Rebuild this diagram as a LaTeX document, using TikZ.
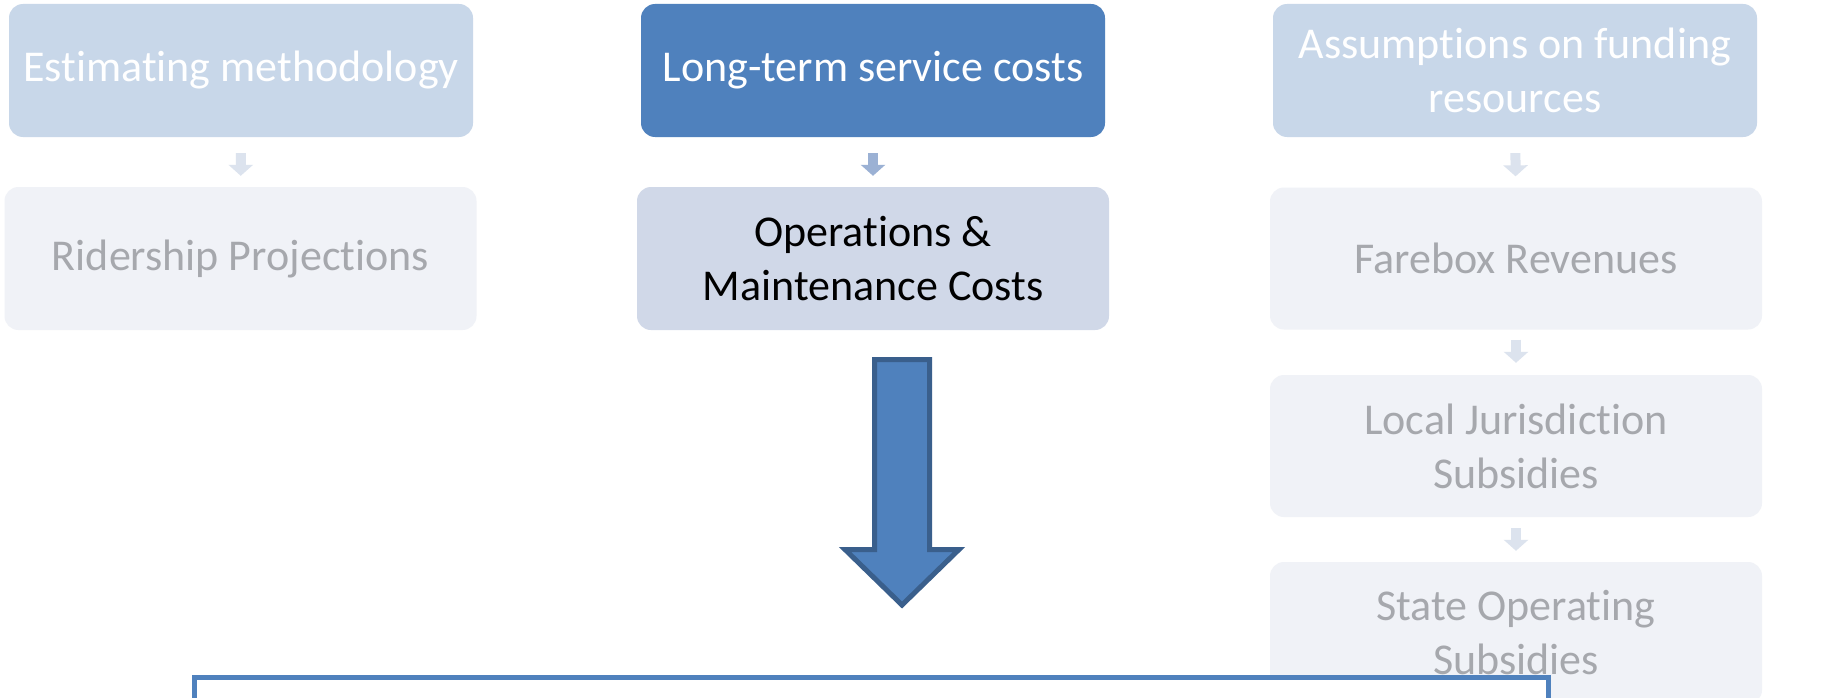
\documentclass[tikz,border=0pt]{standalone}
\usepackage{fontspec}
\setmainfont[Ligatures=NoCommon]{Carlito}
\usetikzlibrary{arrows.meta}
\definecolor{mainblue}{RGB}{79,129,189}
\definecolor{arrowdark}{RGB}{58,95,140}
\definecolor{fadetop}{RGB}{200,215,233}
\definecolor{omfill}{RGB}{208,216,232}
\definecolor{fadelow}{RGB}{240,242,247}
\definecolor{fadetext}{RGB}{166,168,173}
\definecolor{fadearrow}{RGB}{220,227,238}
\definecolor{midarrow}{RGB}{155,177,212}
\begin{document}
\begin{tikzpicture}[x=1pt,y=-1pt,
  box/.style={rectangle, rounded corners=14pt, align=center, inner sep=0pt,
    font=\fontsize{44}{54}\selectfont},
  fadedtop/.style={box, fill=fadetop, text=white},
  fadedlow/.style={box, fill=fadelow, text=fadetext},
  activetop/.style={box, fill=mainblue, text=white},
  activelow/.style={box, fill=omfill, text=black},
  toprow/.style={minimum width=464pt, minimum height=133pt},
  lowrow/.style={minimum width=472pt, minimum height=143pt},
  rightcol/.style={minimum width=492pt, minimum height=142pt},
  smallarr/.style={line width=10pt, -{Triangle[width=24pt,length=11pt]}},
  bigarrow/.style={line width=5pt, draw=arrowdark, fill=mainblue, line join=miter},
  notebox/.style={draw=mainblue, line width=5pt, fill=white, inner sep=0pt}
]
\clip (0,0) rectangle (1835,698);
\fill[white] (0,0) rectangle (1835,698);

% left column
\node[fadedtop, toprow] (est) at (241,70.5) {Estimating methodology};
\node[fadedlow, lowrow] (rid) at (240.5,258.5) {Ridership Projections};
% middle column
\node[activetop, toprow] (lts) at (873,70.5) {Long-term service costs};
\node[activelow, lowrow] (om) at (873,258.5) {Operations \&\\Maintenance Costs};
% right column
\node[fadedtop, minimum width=484pt, minimum height=133pt] (ass) at (1515,70.5) {Assumptions on funding\\resources};
\node[fadedlow, rightcol] (fare) at (1516,258.5) {Farebox Revenues};
\node[fadedlow, rightcol] (loc) at (1516,446) {Local Jurisdiction\\Subsidies};
\node[fadedlow, rightcol] (sta) at (1516,633) {State Operating\\Subsidies};

% small connectors
\draw[smallarr, fadearrow, shorten <=16pt, shorten >=11pt] (est) -- (rid);
\draw[smallarr, midarrow, shorten <=16pt, shorten >=11pt] (lts) -- (om);
\draw[smallarr, fadearrow, shorten <=16pt, shorten >=11pt] (ass) -- (fare);
\draw[smallarr, fadearrow, shorten <=10pt, shorten >=12pt] (fare) -- (loc);
\draw[smallarr, fadearrow, shorten <=11pt, shorten >=11pt] (loc) -- (sta);

% big block arrow
\coordinate (bigtop) at (902,359.5);
\coordinate (bigtip) at (902,605);
\draw[bigarrow] (874.5,359.5) -- (929.5,359.5) -- (929.5,549.5) -- (959,549.5)
  -- (bigtip) -- (845,549.5) -- (874.5,549.5) -- cycle;

% bottom note box (cut off by the frame)
\node[notebox, anchor=north west, minimum width=1354pt, minimum height=100pt] (note) at (191.5,674.5) {};
\node[anchor=base west, inner sep=0pt, font=\fontsize{44}{54}\selectfont] (notetext) at (822,730) {the following};
\end{tikzpicture}
\end{document}
